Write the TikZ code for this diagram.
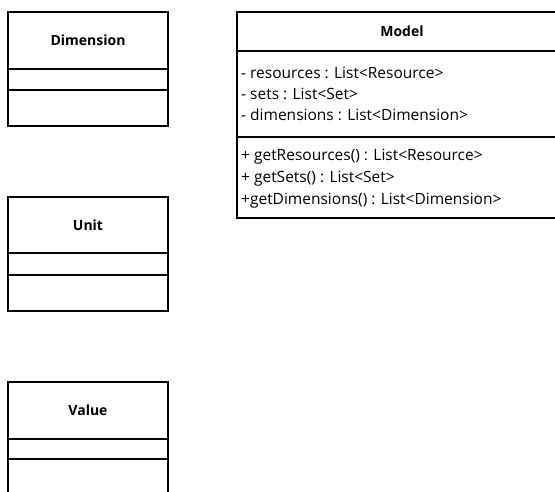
\documentclass[tikz,border=0pt]{standalone}
\usepackage{fontspec}
\setmainfont{Open Sans}
\usetikzlibrary{positioning}
\tikzset{font=\fontsize{15.5}{18}\selectfont}
\tikzset{box/.style={draw, line width=2pt, inner sep=0pt, outer sep=0pt, anchor=north west}}
\tikzset{title/.style={font=\fontsize{14}{16}\selectfont\bfseries}}
\tikzset{member/.style={anchor=west, inner sep=0pt}}

\begin{document}
\begin{tikzpicture}[x=1pt, y=-1pt]
  \useasboundingbox (0,0) rectangle (555,492);
  \clip (0,0) rectangle (555,492);

  % left column: empty classes
  \node[box, title, minimum width=160pt, minimum height=57pt] (dimname) at (8,12) {Dimension};
  \node[box, minimum width=160pt, minimum height=21pt] (dimattr) at (dimname.south west) {};
  \node[box, minimum width=160pt, minimum height=36pt] (dimop) at (dimattr.south west) {};

  \node[box, title, minimum width=160pt, minimum height=56pt] (unitname) at (8,197) {Unit};
  \node[box, minimum width=160pt, minimum height=22pt] (unitattr) at (unitname.south west) {};
  \node[box, minimum width=160pt, minimum height=36pt] (unitop) at (unitattr.south west) {};

  \node[box, title, minimum width=160pt, minimum height=57pt] (valname) at (8,382) {Value};
  \node[box, minimum width=160pt, minimum height=20pt] (valattr) at (valname.south west) {};
  \node[box, minimum width=160pt, minimum height=40pt] (valop) at (valattr.south west) {};

  % Model
  \node[box, title, minimum width=330pt, minimum height=39pt] (modname) at (237,12) {Model};
  \node[box, minimum width=330pt, minimum height=86pt] (modattr) at (modname.south west) {};
  \node[box, minimum width=330pt, minimum height=81pt] (modop) at (modattr.south west) {};

  \node[member] (res) at (241,73) {- resources : List<Resource>};
  \node[member] (sets) at (241,94) {- sets : List<Set>};
  \node[member] (dims) at (241,115) {- dimensions : List<Dimension>};

  \node[member] (getres) at (241,157) {+ getResources() : List<Resource>};
  \node[member] (getsets) at (241,179) {+ getSets() : List<Set>};
  \node[member] (getdims) at (241,201) {+getDimensions() : List<Dimension>};
\end{tikzpicture}
\end{document}
